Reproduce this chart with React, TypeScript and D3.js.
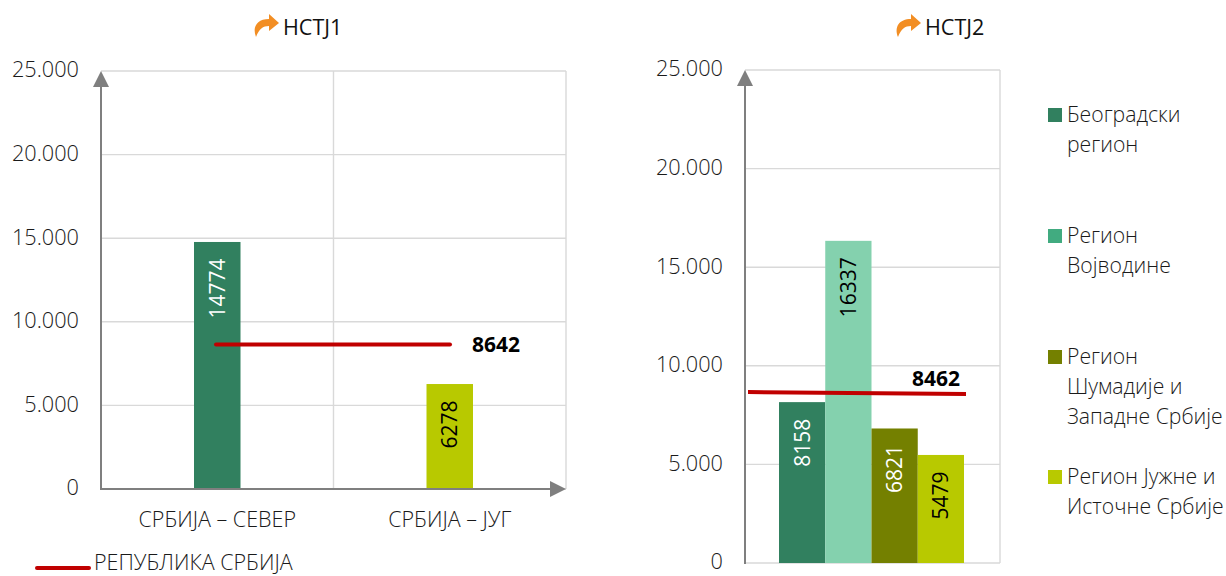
import React, { useEffect, useRef } from 'react';
import * as d3 from 'd3';

const yTicks = [0, 5000, 10000, 15000, 20000, 25000];

const nutsOneNames = ['СРБИЈА – СЕВЕР', 'СРБИЈА – ЈУГ'];
const nutsOneValues = [14774, 6278];
const nutsOneColors = ['#31805f', '#b8c900'];
const nutsOneLabelColors = ['#ffffff', '#000000'];
const nutsOneLine = [8642, 8642];

const nutsTwoNames = ['Београдски регион', 'Регион Војводине', 'Регион Шумадије и Западне Србије', 'Регион Јужне и Источне Србије'];
const nutsTwoValues = [8158, 16337, 6821, 5479];
const nutsTwoColors = ['#31805f', '#84d1ae', '#748000', '#b8c900'];
const nutsTwoLabelColors = ['#ffffff', '#000000', '#ffffff', '#000000'];
const nutsTwoLine = [8670, 8570];

const legendRows = [
  { color: '#31805f', lines: ['Београдски', 'регион'] },
  { color: '#41ab80', lines: ['Регион', 'Војводине'] },
  { color: '#748000', lines: ['Регион', 'Шумадије и', 'Западне Србије'] },
  { color: '#b8c900', lines: ['Регион Јужне и', 'Источне Србије'] },
];

const FONT = '"Open Sans", sans-serif';
const TEXT = '#1a1a1a';
const GRID = '#d9d9d9';
const AXIS = '#7f7f7f';
const RED = '#c00000';

const fmt = (d: number) => (d === 0 ? '0' : d3.format(',')(d).replace(',', '.'));

function drawFrame(svg: any, x0: number, x1: number, y: any, midLines: number[]) {
  const g = svg.append('g');

  // Grid
  g.selectAll('.grid')
    .data(yTicks)
    .join('line')
    .attr('x1', x0)
    .attr('x2', x1)
    .attr('y1', (d: number) => y(d))
    .attr('y2', (d: number) => y(d))
    .attr('stroke', GRID)
    .attr('stroke-width', 1.4);

  g.selectAll('.vgrid')
    .data([...midLines, x1])
    .join('line')
    .attr('x1', (d: number) => d)
    .attr('x2', (d: number) => d)
    .attr('y1', y(25000))
    .attr('y2', y(0))
    .attr('stroke', GRID)
    .attr('stroke-width', 1.4);

  // Tick labels
  const axis = svg.append('g')
    .attr('transform', `translate(${x0}, -1)`)
    .call(d3.axisLeft(y).tickValues(yTicks).tickFormat(fmt as any).tickSize(0).tickPadding(22));
  axis.select('.domain').remove();
  axis.selectAll('text')
    .attr('font-family', FONT)
    .attr('font-weight', 300)
    .attr('font-size', 21.7)
    .attr('fill', TEXT);
}

function drawBars(svg: any, x: any, y: any, names: string[], values: number[], colors: string[], labelColors: string[]) {
  svg.append('g')
    .selectAll('rect')
    .data(names)
    .join('rect')
    .attr('x', (d: string) => x(d))
    .attr('width', x.bandwidth())
    .attr('y', (_: string, i: number) => y(values[i]))
    .attr('height', (_: string, i: number) => y(0) - y(values[i]))
    .attr('fill', (_: string, i: number) => colors[i]);

  svg.append('g')
    .selectAll('text')
    .data(names)
    .join('text')
    .attr('transform', (d: string, i: number) =>
      `translate(${x(d) + x.bandwidth() / 2}, ${y(values[i]) + 16.5}) rotate(-90)`)
    .attr('text-anchor', 'end')
    .attr('dy', '0.36em')
    .attr('font-family', FONT)
    .attr('font-size', 21)
    .attr('fill', (_: string, i: number) => labelColors[i])
    .text((_: string, i: number) => String(values[i]));
}

function drawAxisArrows(svg: any, x0: number, x1: number | null, y: any) {
  const top = y(25000);
  const bottom = y(0);
  svg.append('line')
    .attr('x1', x0).attr('x2', x0)
    .attr('y1', top + 10).attr('y2', bottom + 1)
    .attr('stroke', AXIS).attr('stroke-width', 2);
  svg.append('path')
    .attr('d', `M${x0},${top}L${x0 + 8},${top + 16}L${x0 - 8},${top + 16}Z`)
    .attr('fill', AXIS);
  if (x1 !== null) {
    svg.append('line')
      .attr('x1', x0).attr('x2', x1 - 10)
      .attr('y1', bottom).attr('y2', bottom)
      .attr('stroke', AXIS).attr('stroke-width', 2);
    svg.append('path')
      .attr('d', `M${x1},${bottom}L${x1 - 16},${bottom + 8}L${x1 - 16},${bottom - 8}Z`)
      .attr('fill', AXIS);
  }
}

function drawTitle(svg: any, x: number, label: string) {
  const g = svg.append('g').attr('transform', `translate(${x}, 0)`);
  g.append('path')
    .attr('d', 'M2,37C-2,27 3,19 15,19L15,14L25,23L15,31L15,26C9,26 5,29 2,37Z')
    .attr('fill', '#f28e24');
  g.append('text')
    .attr('x', 29)
    .attr('y', 35)
    .attr('font-family', FONT)
    .attr('font-size', 21.5)
    .attr('fill', '#111111')
    .text(label);
}

export default function App() {
  const ref = useRef<SVGSVGElement>(null);

  useEffect(() => {
    const svg = d3.select(ref.current);
    svg.selectAll('*').remove();

    // Left chart
    const leftY = d3.scaleLinear().domain([0, 25000]).range([489, 71]);
    const leftX = d3.scaleBand<string>().domain(nutsOneNames).range([101, 566]).paddingInner(0.8).paddingOuter(0.4);
    const leftLineX = d3.scalePoint<number>().domain([0, 1]).range([216, 450]);
    const lineGen = (sx: any, sy: any) => d3.line<number>().x((_, i) => sx(i)).y(d => sy(d));

    drawTitle(svg, 254, 'НСТЈ1');
    drawFrame(svg, 101, 566, leftY, [333.5]);
    drawBars(svg, leftX, leftY, nutsOneNames, nutsOneValues, nutsOneColors, nutsOneLabelColors);
    drawAxisArrows(svg, 101, 566, leftY);

    svg.append('path')
      .attr('d', lineGen(leftLineX, leftY)(nutsOneLine))
      .attr('fill', 'none')
      .attr('stroke', RED)
      .attr('stroke-width', 4)
      .attr('stroke-linecap', 'round');

    svg.append('text')
      .attr('x', 472)
      .attr('y', leftY(nutsOneLine[0]))
      .attr('dy', '0.36em')
      .attr('font-family', FONT)
      .attr('font-weight', 700)
      .attr('font-size', 21)
      .attr('fill', '#000')
      .text(nutsOneLine[0]);

    svg.append('g')
      .selectAll('text')
      .data(nutsOneNames)
      .join('text')
      .attr('x', d => leftX(d)! + leftX.bandwidth() / 2)
      .attr('y', 519)
      .attr('dy', '0.36em')
      .attr('text-anchor', 'middle')
      .attr('font-family', FONT)
      .attr('font-weight', 300)
      .attr('font-size', 21.5)
      .attr('fill', TEXT)
      .text(d => d);

    // Bottom legend of the left chart
    svg.append('line')
      .attr('x1', 37).attr('x2', 89)
      .attr('y1', 568).attr('y2', 568)
      .attr('stroke', RED).attr('stroke-width', 4).attr('stroke-linecap', 'round');
    svg.append('text')
      .attr('x', 94)
      .attr('y', 562)
      .attr('dy', '0.36em')
      .attr('font-family', FONT)
      .attr('font-weight', 300)
      .attr('font-size', 21.5)
      .attr('fill', TEXT)
      .text('РЕПУБЛИКА СРБИЈА');

    // Right chart
    const rightY = d3.scaleLinear().domain([0, 25000]).range([563, 70]);
    const rightX = d3.scaleBand<string>().domain(nutsTwoNames).range([779, 964]);
    const rightLineX = d3.scalePoint<number>().domain([0, 1]).range([748, 966]);

    drawTitle(svg, 896, 'НСТЈ2');
    drawFrame(svg, 745, 1000, rightY, []);
    drawBars(svg, rightX, rightY, nutsTwoNames, nutsTwoValues, nutsTwoColors, nutsTwoLabelColors);
    drawAxisArrows(svg, 745, null, rightY);

    svg.append('path')
      .attr('d', lineGen(rightLineX, rightY)(nutsTwoLine))
      .attr('fill', 'none')
      .attr('stroke', RED)
      .attr('stroke-width', 4);

    svg.append('text')
      .attr('x', 912)
      .attr('y', 378)
      .attr('dy', '0.36em')
      .attr('font-family', FONT)
      .attr('font-weight', 700)
      .attr('font-size', 21)
      .attr('fill', '#000')
      .text('8462');

    // Right legend
    const legendTop = [114.5, 235.5, 356.5, 476.5];
    const legend = svg.append('g')
      .selectAll('g')
      .data(legendRows)
      .join('g')
      .attr('transform', (_, i) => `translate(1048, ${legendTop[i]})`);

    legend.append('rect')
      .attr('y', -6.5)
      .attr('width', 14)
      .attr('height', 14)
      .attr('fill', d => d.color);

    legend.selectAll('text')
      .data(d => d.lines)
      .join('text')
      .attr('x', 19)
      .attr('y', (_, i) => i * 29.7)
      .attr('dy', '0.36em')
      .attr('font-family', FONT)
      .attr('font-weight', 300)
      .attr('font-size', 21.2)
      .attr('fill', TEXT)
      .text(d => d);
  }, []);

  return (
    <svg
      ref={ref}
      width={1226}
      height={576}
      style={{ position: 'absolute', left: 0, top: 0, background: '#fff' }}
    />
  );
}
